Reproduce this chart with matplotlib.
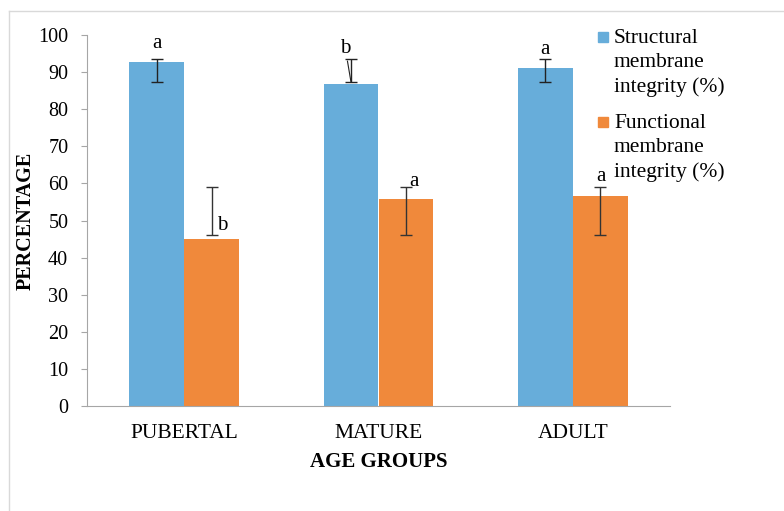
#Membrane integrity of semen across age groups - grouped bar chart
import matplotlib.pyplot as plt
import numpy as np
from matplotlib.lines import Line2D
from matplotlib.patches import Rectangle

#the data
groups = ['PUBERTAL', 'MATURE', 'ADULT']
structural = [92.8, 86.9, 91.1]
functional = [45.0, 55.8, 56.6]
#error bar ends (low, high) as drawn on the chart
structural_lo = [87.3, 87.3, 87.3]
structural_hi = [93.5, 93.5, 93.5]
functional_lo = [46.0, 46.0, 46.0]
functional_hi = [59.1, 59.1, 59.1]
#significance letters
structural_letters = ['a', 'b', 'a']
functional_letters = ['b', 'a', 'a']
series_names = ['Structural\nmembrane\nintegrity (%)', 'Functional\nmembrane\nintegrity (%)']
yticks = list(range(0, 101, 10))

blue = '#67ADDA'
orange = '#F0893B'
serif = 'Liberation Serif'
plt.rcParams['font.family'] = serif

fig = plt.figure(figsize=(7.84, 5.11), dpi=100)
ax = fig.add_axes([87/784, 1 - 406/511, (670 - 87)/784, (406 - 35)/511])

x = np.arange(len(groups))
w = 0.283
xs = x - w/2
xf = x + w/2
ax.bar(xs, structural, w, color=blue, zorder=2)
ax.bar(xf, functional, w, color=orange, zorder=2)

#error bars, drawn from their low/high ends
def draw_err(xpos, lo, hi, color):
    lo = np.array(lo)
    hi = np.array(hi)
    ax.errorbar(xpos, (lo + hi)/2, yerr=(hi - lo)/2, fmt='none', ecolor=color,
                elinewidth=1, capsize=4.5, capthick=1, zorder=3)

draw_err(xs, structural_lo, structural_hi, '#222222')
draw_err(xf, functional_lo, functional_hi, '#333333')

#letters above the bars
s_off = [(0.0, 97.8), (-0.029, 96.3), (0.0, 96.0)]
f_off = [(0.056, 48.7), (0.040, 60.6), (0.003, 61.9)]
for i in range(len(groups)):
    if i == 1:
        ax.annotate(structural_letters[i], xy=(xs[i], structural_lo[i]),
                    xytext=(xs[i] + s_off[i][0], s_off[i][1]), ha='center', va='center',
                    fontsize=15, arrowprops=dict(arrowstyle='-', color='#222222', lw=0.8,
                                                 shrinkA=0, shrinkB=0))
    else:
        ax.text(xs[i] + s_off[i][0], s_off[i][1], structural_letters[i],
                ha='center', va='center', fontsize=15)
    ax.text(xf[i] + f_off[i][0], f_off[i][1], functional_letters[i],
            ha='center', va='center', fontsize=15)

ax.set_xlim(-0.5, len(groups) - 0.5)
ax.set_ylim(0, 100)
ax.set_yticks(yticks)
ax.set_xticks(x)
ax.set_xticklabels(groups)
ax.tick_params(axis='y', length=4.5, color='#a6a6a6', pad=9, labelsize=14.5)
ax.tick_params(axis='x', length=0, pad=13, labelsize=15.5)
for side in ['top', 'right']:
    ax.spines[side].set_visible(False)
ax.spines['left'].set_color('#a6a6a6')
ax.spines['bottom'].set_color('#a6a6a6')
ax.set_xlabel('AGE GROUPS', fontsize=15, fontweight='bold', labelpad=6.5)
ax.set_ylabel('PERCENTAGE', fontsize=14.5, fontweight='bold', labelpad=2)

#legend on the right, square next to the first line of each name
W, H = 784, 511
for k, (name, col) in enumerate(zip(series_names, [blue, orange])):
    ytop = 37 + k*85
    fig.patches.append(Rectangle(((598)/W, 1 - (ytop + 5)/H), 10/W, 10/H,
                                 transform=fig.transFigure, color=col))
    fig.text(614/W, 1 - (ytop - 8)/H, name, fontsize=15.5, va='top', ha='left',
             linespacing=1.36)

#chart area border
fig.add_artist(Line2D([8.5/W, 8.5/W], [0, 1 - 11.5/H], color='#d9d9d9', lw=1))
fig.add_artist(Line2D([8.5/W, 1], [1 - 11.5/H, 1 - 11.5/H], color='#d9d9d9', lw=1))

fig.savefig('out.png', dpi=100)
